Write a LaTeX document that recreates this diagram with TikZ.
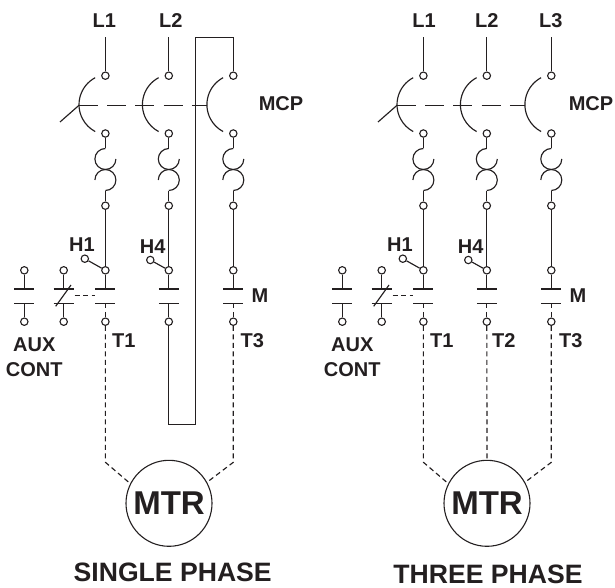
\documentclass[tikz,border=0pt]{standalone}
\usepackage{fontspec}
\setmainfont{Liberation Sans}
\definecolor{ink}{HTML}{231F20}
\tikzset{
    wire/.style={line width=1.15pt, color=ink},
    linkdash/.style={wire, dash pattern=on 5pt off 3.5pt},
    term/.style={circle, draw=ink, line width=1.1pt, fill=white, inner sep=0pt, minimum size=7.4pt},
    lbl/.style={inner sep=0pt, text=ink, font=\bfseries\fontsize{20}{22}\selectfont, align=center},
    mtrnode/.style={circle, draw=ink, line width=1.1pt, inner sep=0pt, minimum size=86pt, text=ink, font=\bfseries\fontsize{33}{35}\selectfont},
    title/.style={inner sep=0pt, text=ink, font=\bfseries\fontsize{26.6}{29}\selectfont}
}
\begin{document}
\begin{tikzpicture}[x=1pt,y=1pt]
    \useasboundingbox (0,0) rectangle (615,-588);
    \foreach \s in {0,318} {
        \begin{scope}[xshift=\s]
            % poles
            \foreach \x/\n in {105.4/a,168.8/b,233.3/c} {
                \coordinate (line\n\s) at (\x,-37.5);
                \node[term] (ta\n\s) at (\x,-75.7) {};
                \node[term] (tb\n\s) at (\x,-133.5) {};
                \node[term] (tc\n\s) at (\x,-205.7) {};
                \node[term] (td\n\s) at (\x,-270.3) {};
                \node[term] (te\n\s) at (\x,-321.7) {};
                \coordinate (pu\n\s) at (\x,-289);
                \coordinate (pd\n\s) at (\x,-303.3);
                \draw[wire] (line\n\s) -- (ta\n\s);
                \draw[wire] (\x-10.2,-77.7) arc[start angle=118, end angle=242, radius=30.5]; % breaker
                \draw[wire] (\x,-148.5) arc[start angle=90, end angle=360, radius=10.5]; % fuse
                \draw[wire] (\x-10.5,-180) arc[start angle=180, end angle=-90, radius=10.5];
                \draw[wire] (tb\n\s) -- (\x,-148.5);
                \draw[wire] (\x,-191) -- (tc\n\s);
                \draw[wire] (tc\n\s) -- (td\n\s);
                \draw[wire] (td\n\s) -- (pu\n\s);
                \draw[wire] (\x-10,-289) -- (\x+10,-289);
                \draw[wire] (\x-10,-303.3) -- (\x+10,-303.3);
            }
            \draw[wire, dash pattern=on 19pt off 9.2pt] (79,-105.3) -- (207.3,-105.3);
            \draw[wire] (60,-122) -- (79,-105.3);
            % aux contacts
            \foreach \x/\n in {24.3/x,63.7/y} {
                \node[term] (td\n\s) at (\x,-270.3) {};
                \node[term] (te\n\s) at (\x,-321.7) {};
                \draw[wire] (td\n\s) -- (\x,-289);
                \draw[wire] (te\n\s) -- (\x,-303.3);
                \draw[wire] (\x-10,-289) -- (\x+10,-289);
                \draw[wire] (\x-10,-303.3) -- (\x+10,-303.3);
            }
            \draw[wire] (71,-285) -- (55.7,-306.3);
            \coordinate (auxend\s) at (74.7,-295.7);
            \coordinate (auxto\s) at (95,-295.7);
            \draw[linkdash] (auxend\s) -- (auxto\s);
            % hand terminals
            \node[term] (hone\s) at (84.8,-258.7) {};
            \node[term] (hfour\s) at (150.3,-260) {};
            \draw[wire] (hone\s) -- (tda\s);
            \draw[wire] (hfour\s) -- (tdb\s);
        \end{scope}
    }
    \foreach \s/\n in {0/a,0/c,318/a,318/b,318/c}
        \draw[linkdash] (pd\n\s) -- (te\n\s);
    \draw[wire] (pdb0) -- (teb0);
    % jumper
    \coordinate (jumpa) at (195.7,-37.5);
    \coordinate (jumpb) at (195.7,-424.3);
    \coordinate (jumpc) at (168.8,-424.3);
    \draw[wire, line width=1.3pt] (linec0) -- (jumpa) -- (jumpb) -- (jumpc) -- (teb0);
    % motors
    \node[mtrnode] (mtrs) at (169,-503.3) {MTR};
    \node[mtrnode] (mtrt) at (487,-503.3) {MTR};
    \coordinate (bendsa) at (105.4,-462.3);
    \coordinate (bendsc) at (233.3,-462.3);
    \coordinate (bendta) at (423.4,-462.3);
    \coordinate (bendtc) at (551.3,-462.3);
    \draw[linkdash] (tea0) -- (bendsa) -- (mtrs.153);
    \draw[linkdash] (tec0) -- (bendsc) -- (mtrs.29);
    \draw[linkdash] (tea318) -- (bendta) -- (mtrt.153);
    \draw[linkdash] (teb318) -- (mtrt.north);
    \draw[linkdash] (tec318) -- (bendtc) -- (mtrt.29);
    % labels
    \foreach \x/\y/\t/\n in {104.3/21/L1/la,170.7/21/L2/lb,281/103.7/MCP/lc,82/244.7/H1/ld,152.7/246.7/H4/le,
        260/295.7/M/lf,123.7/340.3/T1/lg,252.3/340.3/T3/lh,
        424/21/L1/ra,486.7/21/L2/rb,550.7/21/L3/rc,591/103.7/MCP/rd,400/244.7/H1/re,470.7/246.7/H4/rf,
        578/295.7/M/rg,441.7/340.3/T1/rh,503.7/340.3/T2/ri,570.7/340.3/T3/rj}
        \node[lbl] (\n) at (\x,-\y) {\t};
    \node[lbl] (auxs) at (34.3,-345) {AUX};
    \node[lbl] (conts) at (34.3,-369.3) {CONT};
    \node[lbl] (auxt) at (352.3,-345) {AUX};
    \node[lbl] (contt) at (352.3,-369.3) {CONT};
    \node[title] (single) at (172.7,-572.7) {SINGLE PHASE};
    \node[title] (three) at (488,-574) {THREE PHASE};
\end{tikzpicture}
\end{document}
